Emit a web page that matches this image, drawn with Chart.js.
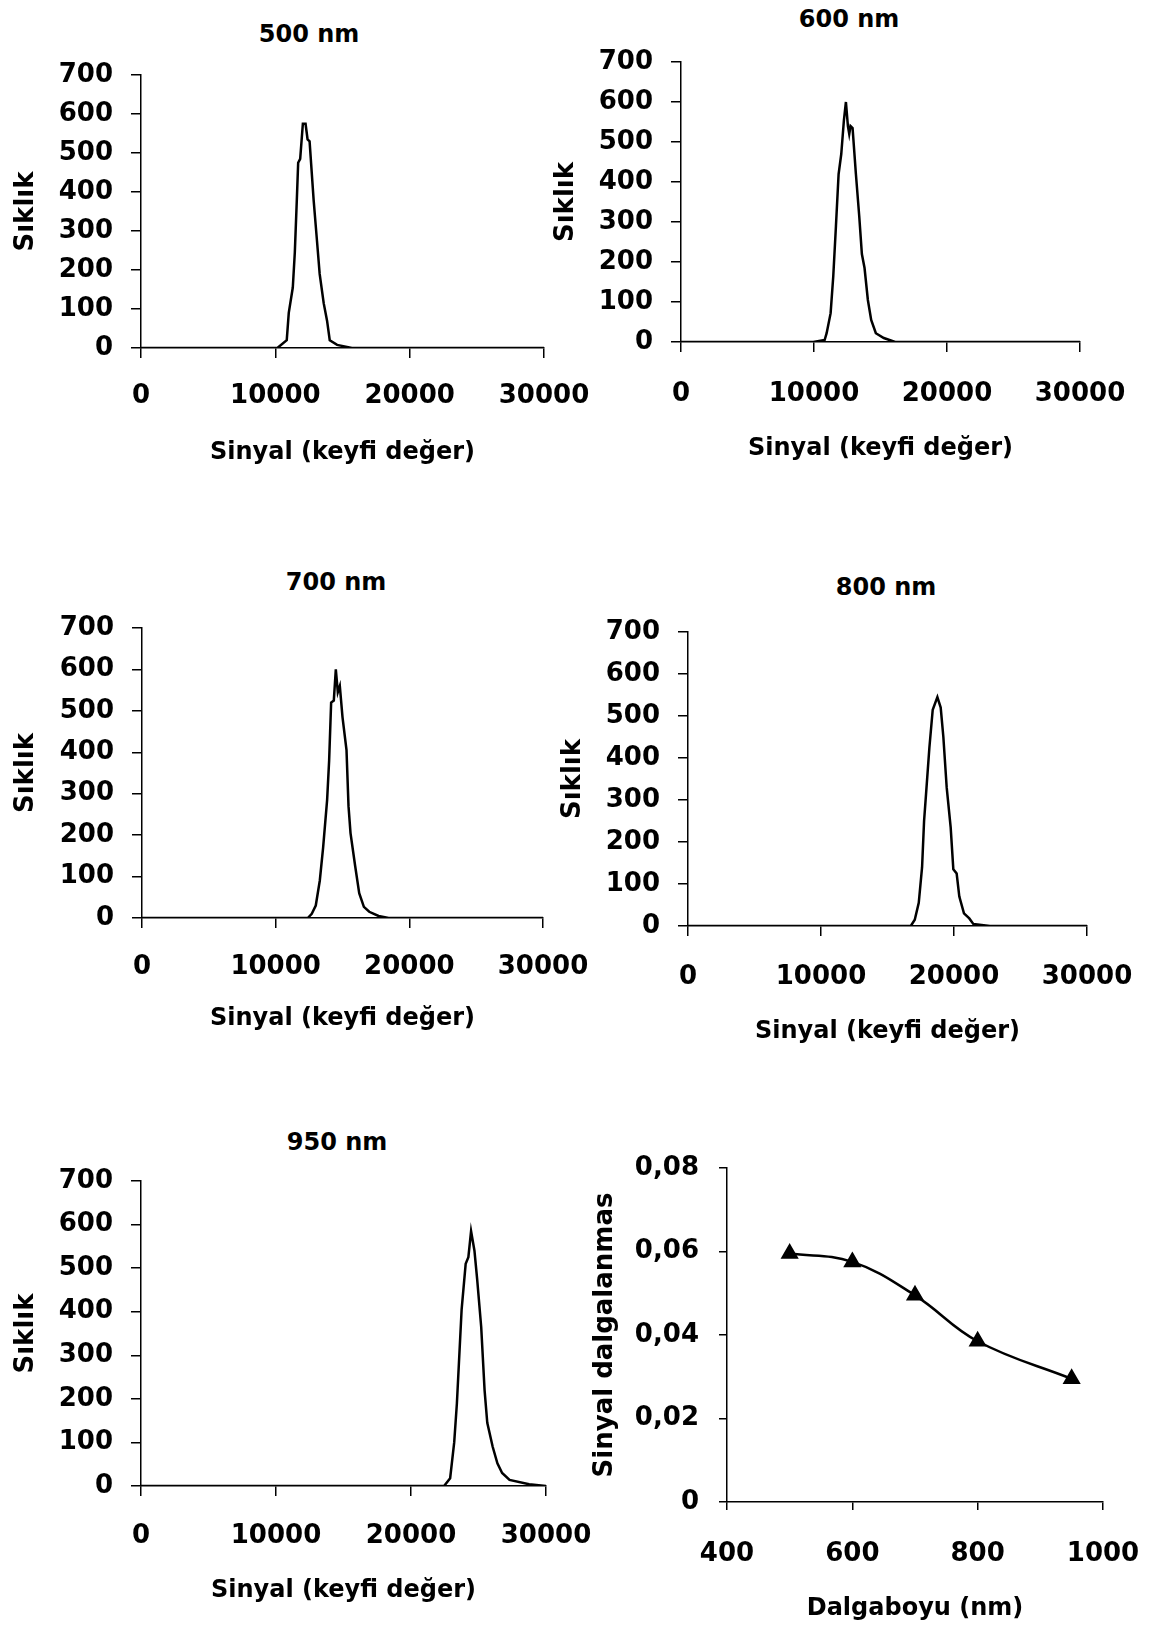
<!DOCTYPE html>
<html>
<head>
<meta charset="utf-8">
<script src="https://cdn.jsdelivr.net/npm/chart.js@4.4.1/dist/chart.umd.min.js"></script>
<style>
    html, body { margin: 0; padding: 0; background: #fff; width: 1152px; height: 1629px; overflow: hidden; }
    .box { position: absolute; }
    .heading {
        position: absolute;
        font-family: 'DejaVu Sans', sans-serif;
        font-weight: bold;
        font-size: 24px;
        line-height: 1;
        color: #000;
        white-space: nowrap;
        transform: translate(-50%, -50%);
    }
</style>
</head>
<body>
<script>
// histogram data (signal value / count)
const signal500 = [0, 10150, 10850, 11000, 11300, 11450, 11600, 11700, 11850, 12050, 12250, 12400, 12550, 12850, 13100, 13300, 13600, 13850, 14050, 14600, 15700, 30000];
const count500  = [0, 0, 20, 90, 155, 245, 380, 475, 485, 575, 575, 535, 530, 380, 275, 190, 115, 70, 20, 8, 0, 0];

const signal600 = [0, 9950, 10800, 10950, 11250, 11450, 11650, 11850, 12050, 12250, 12400, 12550, 12650, 12750, 12900, 13150, 13400, 13600, 13800, 14050, 14300, 14650, 15250, 16100, 30000];
const count600  = [0, 0, 5, 22, 72, 165, 290, 420, 470, 555, 600, 540, 520, 540, 535, 420, 315, 220, 185, 105, 55, 22, 10, 0, 0];

const signal700 = [0, 12400, 12700, 13000, 13300, 13550, 13850, 14000, 14150, 14350, 14500, 14650, 14800, 15000, 15300, 15450, 15600, 15950, 16250, 16600, 17000, 17700, 18450, 30000];
const count700  = [0, 0, 10, 30, 90, 170, 285, 380, 520, 525, 600, 545, 560, 485, 405, 270, 205, 125, 60, 27, 15, 5, 0, 0];

const signal800 = [0, 16750, 17050, 17350, 17600, 17750, 17900, 18150, 18400, 18750, 19000, 19200, 19450, 19750, 19950, 20200, 20400, 20750, 21150, 21450, 22700, 30000];
const count800  = [0, 0, 15, 55, 140, 250, 315, 425, 515, 545, 520, 450, 330, 235, 135, 125, 70, 30, 18, 5, 0, 0];

const signal950 = [0, 22450, 22900, 23200, 23400, 23750, 24050, 24250, 24450, 24700, 24900, 25200, 25450, 25650, 26050, 26400, 26750, 27300, 28750, 30000];
const count950  = [0, 0, 18, 100, 190, 405, 510, 525, 585, 540, 475, 365, 220, 145, 90, 52, 30, 14, 4, 0];

// ripple vs wavelength
const waveLengths = [500, 600, 700, 800, 950];
const ripple      = [0.0595, 0.0575, 0.0495, 0.0385, 0.0295];

// axis ranges [min, max, step]
const signalAxis = [0, 30000, 10000];
const countAxis  = [0, 700, 100];
const waveAxis   = [400, 1000, 200];
const rippleAxis = [0, 0.08, 0.02];

const FONT = 'DejaVu Sans';
const TICK_SIZE = 26;
const XTITLE_SIZE = 24;
const YTITLE_SIZE = 26;
const TEXT_NUDGE = 4; // canvas 'middle' sits a little high vs. the scan

function pairs(xs, ys) {
    return xs.map((x, i) => ({ x, y: ys[i] }));
}

// place one chart so its plot area lands on p.plot = [left, top, right, bottom]
function addPanel(p) {
    const [pl, pt, pr, pb] = p.plot;
    const cl = p.yTitleX - 25;
    const ct = pt - 25;
    const cw = pr - cl + 60;
    const ch = p.xTitleY + 30 - ct;
    const yw = pl - cl;
    const xh = ct + ch - pb;

    const div = document.createElement('div');
    div.className = 'box';
    div.style.left = cl + 'px';
    div.style.top = ct + 'px';
    div.style.width = cw + 'px';
    div.style.height = ch + 'px';
    const canvas = document.createElement('canvas');
    canvas.width = cw;
    canvas.height = ch;
    div.appendChild(canvas);
    document.body.appendChild(div);

    if (p.heading) {
        const h = document.createElement('div');
        h.className = 'heading';
        h.textContent = p.heading;
        h.style.left = p.headX + 'px';
        h.style.top = p.headY + 'px';
        document.body.appendChild(h);
    }

    const tl = p.tickLen;
    const axisCommon = {
        type: 'linear',
        border: { display: true, color: '#000', width: 1.5 },
        grid: { drawOnChartArea: false, drawTicks: true, tickLength: tl, color: '#000', lineWidth: 1.5 }
    };

    new Chart(canvas.getContext('2d'), {
        type: 'line',
        data: { datasets: p.datasets },
        options: {
            responsive: false,
            animation: false,
            devicePixelRatio: 1,
            layout: { padding: { top: 25, left: 0, right: 60, bottom: 0 } },
            plugins: { legend: { display: false }, tooltip: { enabled: false } },
            scales: {
                x: {
                    ...axisCommon,
                    position: 'bottom',
                    min: p.xAxis[0], max: p.xAxis[1],
                    ticks: {
                        stepSize: p.xAxis[2], autoSkip: false, maxRotation: 0,
                        color: '#000', font: { family: FONT, size: TICK_SIZE, weight: 'bold' },
                        padding: p.xTickY - pb - tl - TICK_SIZE * 0.6 + TEXT_NUDGE,
                        callback: v => String(v)
                    },
                    title: {
                        display: true, text: p.xTitle, color: '#000',
                        font: { family: FONT, size: XTITLE_SIZE, weight: 'bold' },
                        padding: { top: 0, bottom: 30 - XTITLE_SIZE * 0.6 - TEXT_NUDGE }
                    },
                    afterFit: s => {
                        s.height = xh;
                        s.paddingLeft = 0; s.paddingRight = 0;
                    }
                },
                y: {
                    ...axisCommon,
                    position: 'left',
                    min: p.yAxis[0], max: p.yAxis[1],
                    ticks: {
                        stepSize: p.yAxis[2], autoSkip: false,
                        color: '#000', font: { family: FONT, size: TICK_SIZE, weight: 'bold' },
                        padding: p.yTickPad,
                        callback: p.yFormat || (v => String(v))
                    },
                    title: {
                        display: true, text: p.yTitle, color: '#000',
                        font: { family: FONT, size: YTITLE_SIZE, weight: 'bold' },
                        padding: { top: 25 - YTITLE_SIZE * 0.6, bottom: 0 }
                    },
                    afterFit: s => {
                        s.width = yw;
                        s.paddingTop = 0; s.paddingBottom = 0;
                    }
                }
            }
        }
    });
}

function peak(xs, ys) {
    return [{
        data: pairs(xs, ys),
        borderColor: '#000',
        borderWidth: 2.5,
        pointRadius: 0,
        tension: 0,
        fill: false
    }];
}

const histBase = {
    xAxis: signalAxis, yAxis: countAxis, tickLen: 10, yTickPad: 18,
    xTitle: 'Sinyal (keyfi değer)', yTitle: 'Sıklık'
};

addPanel({ ...histBase, heading: '500 nm', headX: 309, headY: 34,
    plot: [141, 75, 544, 348], xTickY: 392, xTitleY: 449, yTitleX: 26,
    datasets: peak(signal500, count500) });

addPanel({ ...histBase, heading: '600 nm', headX: 849, headY: 19,
    plot: [681, 62, 1080, 342], xTickY: 390, xTitleY: 445, yTitleX: 566,
    datasets: peak(signal600, count600) });

addPanel({ ...histBase, heading: '700 nm', headX: 336, headY: 582,
    plot: [142, 628, 543, 918], xTickY: 963, xTitleY: 1015, yTitleX: 26,
    datasets: peak(signal700, count700) });

addPanel({ ...histBase, heading: '800 nm', headX: 886, headY: 587,
    plot: [688, 632, 1087, 926], xTickY: 973, xTitleY: 1028, yTitleX: 573,
    datasets: peak(signal800, count800) });

addPanel({ ...histBase, heading: '950 nm', headX: 337, headY: 1142,
    plot: [141, 1181, 546, 1486], xTickY: 1532, xTitleY: 1587, yTitleX: 26,
    datasets: peak(signal950, count950) });

addPanel({
    xAxis: waveAxis, yAxis: rippleAxis, tickLen: 8, yTickPad: 20,
    xTitle: 'Dalgaboyu (nm)', yTitle: 'Sinyal dalgalanmas',
    yFormat: v => (v === 0 ? '0' : v.toFixed(2).replace('.', ',')),
    plot: [727, 1168, 1103, 1502], xTickY: 1550, xTitleY: 1605, yTitleX: 605,
    datasets: [{
        data: pairs(waveLengths, ripple),
        borderColor: '#000',
        backgroundColor: '#000',
        borderWidth: 2.5,
        pointStyle: 'triangle',
        pointRadius: 8,
        tension: 0.4,
        fill: false
    }]
});
</script>
</body>
</html>
